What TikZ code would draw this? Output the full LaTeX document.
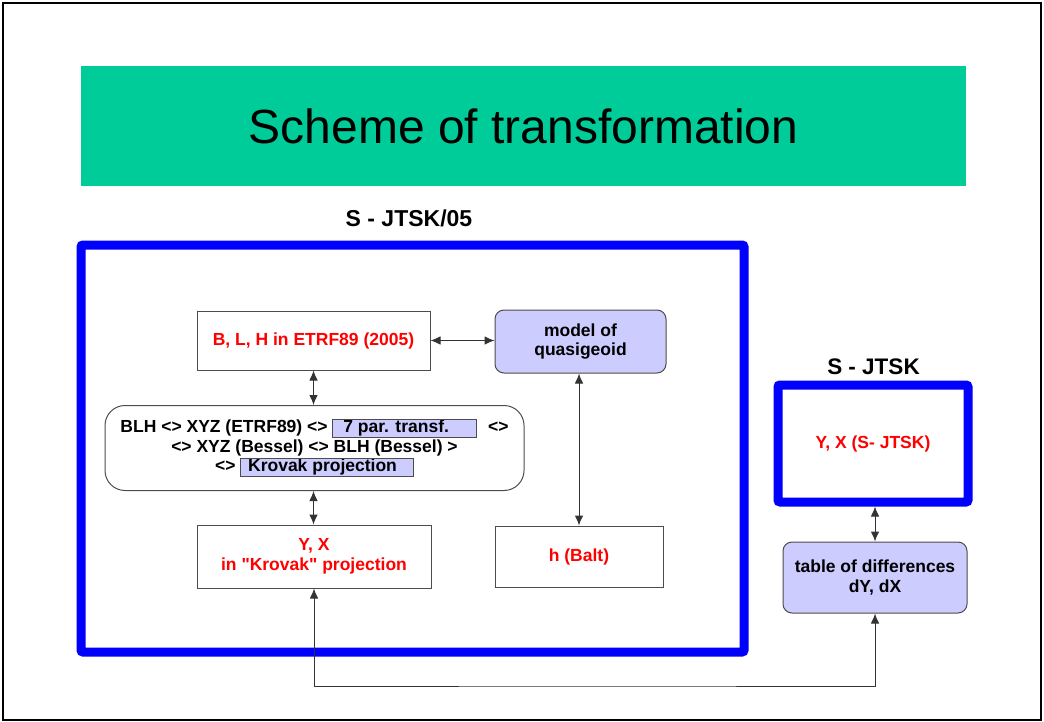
\documentclass[tikz,border=0pt]{standalone}
\usepackage{fontspec}
\setmainfont{Liberation Sans}
\usepackage{tikz}
\usetikzlibrary{arrows.meta}
\definecolor{tGreen}{HTML}{00CC99}
\definecolor{tBlue}{rgb}{0,0,1}
\definecolor{tRed}{rgb}{1,0,0}
\definecolor{tLav}{HTML}{CCCCFF}
\tikzset{txt/.style={font=\fontsize{17.5}{19.5}\selectfont\bfseries, align=center}}
\tikzset{wb/.style={txt, draw=black!70, line width=1pt, fill=white, text=tRed,
  inner sep=0pt}}
\tikzset{lb/.style={txt, draw=black!70, line width=1pt, fill=tLav,
  rounded corners=9pt, inner sep=0pt}}
\tikzset{bf/.style={draw=tBlue, line width=9pt, rounded corners=2pt,
  inner sep=0pt}}
\tikzset{ar/.style={draw, line width=1pt, black!80,
  {Latex[length=10pt,width=8.5pt]}-{Latex[length=10pt,width=8.5pt]}}}
\newcommand{\hlbox}[2]{{\setlength{\fboxsep}{0pt}\setlength{\fboxrule}{0.8pt}%
  \fcolorbox{black!70}{tLav}{\makebox[#1][l]{\rule[-4pt]{0pt}{15pt}#2}}}}

\begin{document}
\begin{tikzpicture}[x=1pt, y=-1pt]
  \useasboundingbox (0,0) rectangle (1044,722);
  \draw[line width=2pt] (3,3) rectangle (1041,720);
  %%
  \node (title) at (523.5,126) [fill=tGreen, minimum width=885pt,
    minimum height=120pt, font=\fontsize{48}{56}\selectfont] {Scheme of transformation};
  \node (l05) at (409,218) [txt, font=\fontsize{23}{26}\selectfont\bfseries] {S - JTSK/05};
  \node (ljtsk) at (873.5,367) [txt, font=\fontsize{22.5}{26}\selectfont\bfseries] {S - JTSK};
  %%
  \node (f05) at (412.5,448.5) [bf, minimum width=663pt, minimum height=407pt] {};
  \node (jtsk) at (873,443.5) [bf, txt, text=tRed, minimum width=190pt,
    minimum height=117pt] {Y, X (S- JTSK)};
  %%
  \node (blh) at (313.5,340.5) [wb, minimum width=233pt, minimum height=59pt]
    {B, L, H in ETRF89 (2005)};
  \node (model) at (580.5,341.5) [lb, minimum width=171pt, minimum height=63pt]
    {model of\\quasigeoid};
  \node (conv) at (314.5,448) [txt, draw=black!70, line width=1pt, rounded corners=20pt,
    minimum width=419pt, minimum height=85pt, inner sep=0pt]
    {BLH <> XYZ (ETRF89) <> \hlbox{143pt}{\hspace{10pt}7 par. transf.}\hspace{11pt}<>\\
     <> XYZ (Bessel) <> BLH (Bessel) >\\
     <> \hlbox{172pt}{\hspace{7pt}Krovak projection}\hspace{18pt}};
  \node (yx) at (314,556.5) [wb, minimum width=234pt, minimum height=63pt]
    {Y, X\\in \textquotedbl Krovak\textquotedbl{} projection};
  \node (balt) at (579,556.5) [wb, minimum width=168pt, minimum height=61pt]
    {h (Balt)};
  \node (tab) at (875,577.5) [lb, minimum width=184pt, minimum height=71pt]
    {table of differences\\dY, dX};
  \coordinate (bend) at (600,686);
  %%
  \path[ar] (blh.east) -- (blh.east -| model.west);
  \path[ar] (blh.south) -- (blh.south |- conv.north);
  \path[ar] (conv.south -| blh.south) -- (yx.north -| blh.south);
  \path[ar] (model.south -| balt.north) -- (balt.north);
  \path[ar] (jtsk.south -| tab.north) -- (tab.north);
  \path[ar] (yx.south) |- (bend) -| (tab.south);
\end{tikzpicture}
\end{document}
